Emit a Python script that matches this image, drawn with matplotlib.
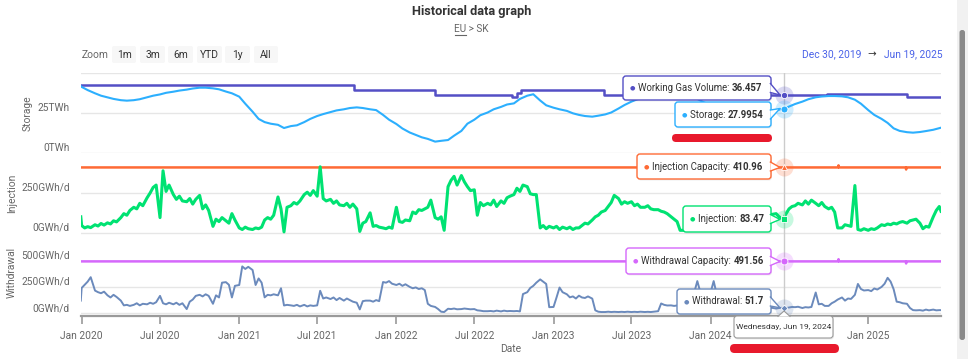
import numpy as np
import pandas as pd
import matplotlib
matplotlib.use("Agg")
import matplotlib.pyplot as plt
import matplotlib.transforms as mtransforms
from matplotlib.patches import FancyBboxPatch, Rectangle, Polygon
from matplotlib.lines import Line2D

plt.rcParams['font.family'] = ['Roboto', 'DejaVu Sans']

# ---------------- data ----------------
start_date = "2019-12-30"
end_date = "2025-06-19"
hover_date = "2024-06-19"

# storage: values on the 1st and 15th of each month (plus start, hover day, end)
storage = [42.0,
    41.5, 39.5, 37.5, 36.0, 35.0, 34.0, 33.2, 32.9, 33.2, 33.8, 35.0, 36.0,
    36.8, 37.8, 38.5, 39.2, 39.8, 40.5, 41.0, 41.0, 40.6, 40.0, 38.6, 37.5,
    35.4, 31.0, 26.0, 21.5, 19.5, 18.5, 17.8, 15.8, 17.0, 17.5, 19.5, 21.5,
    23.3, 24.5, 25.8, 26.8, 27.5, 28.3, 28.7, 28.3, 27.5, 27.0, 24.0, 21.0,
    18.3, 15.5, 13.0, 11.5, 10.0, 9.0, 7.3, 7.8, 8.3, 11.0, 14.0, 18.5,
    21.0, 23.8, 25.5, 27.5, 29.0, 30.5, 31.2, 34.0, 36.0, 36.9, 33.0, 30.0,
    28.5, 27.5, 26.5, 25.0, 24.0, 23.3, 22.9, 23.5, 24.3, 25.5, 28.0, 30.2,
    32.3, 33.8, 35.0, 35.8, 36.2, 36.4, 36.5, 36.5, 36.3, 35.5, 34.0, 32.0,
    30.0, 28.0, 26.0, 24.5, 23.5, 23.0, 23.0, 23.5, 24.5, 25.5, 26.8, 27.8, 27.9954,
    29.2, 30.8, 32.3, 33.8, 35.0, 35.5, 35.8, 35.8, 35.6, 35.0, 33.5, 31.0,
    27.0, 24.0, 21.5, 19.0, 15.6, 14.0, 13.2, 12.9, 13.3, 13.9, 14.7, 15.7,
    16.0]

# injection / withdrawal: values on days 1, 8, 15, 22 of each month (plus start, hover day, end)
injection = [100,
    45, 30, 38, 32,  50, 42, 58, 48,  62, 55, 75, 68,  95, 120, 110, 140,
    160, 150, 185, 170,  220, 250, 285, 300,  95, 390, 260, 300,  240, 210, 230, 200,
    195, 215, 180, 210,  235, 150, 175, 140,  40, 85, 70, 95,  75, 60, 120, 80,
    30, 20, 35, 25,  20, 30, 25, 35,  80, 95, 85, 110,  225, 150, 5, 160,
    170, 190, 180, 200,  240, 255, 235, 265,  230, 415, 215, 200,  210, 185, 200, 175,
    170, 185, 160, 180,  150, 8, 60, 70,  125, 40, 45, 35,  30, 25, 35, 28,
    160, 70, 65, 80,  75, 130, 120, 145,  140, 150, 160, 205,  95, 85, 100, 15,
    290, 330, 355, 300,  360, 320, 290, 265,  270, 110, 190, 170,  185, 175, 205, 165,
    200, 185, 220, 230,  240, 280, 260, 300,  290, 245, 240, 240,  30, 45, 25, 40,
    30, 40, 20, 35,  25, 35, 20, 30,  30, 45, 60, 55,  80, 100, 110, 130,
    140, 165, 190, 235,  215, 180, 195, 185,  195, 170, 180, 160,  160, 170, 150, 145,
    145, 135, 130, 120,  100, 85, 70, 15,  15, 25, 20, 30,  20, 15, 25, 18,
    20, 15, 25, 18,  25, 20, 30, 22,  30, 40, 45, 55,  60, 75, 80, 90,
    95, 105, 110, 115,  120, 100, 90, 83.47, 110,  150, 165, 170, 185,  175, 200, 180, 205,
    185, 170, 190, 165,  150, 160, 130, 30,  30, 50, 45, 40,  297, 20, 15, 25,
    15, 25, 20, 30,  50, 45, 55, 50,  60, 55, 65, 70,  60, 75, 80, 85,
    60, 25, 40, 35,  100, 140, 165,
    135]

withdrawal = [120,
    240, 270, 300, 342,  215, 200, 190, 205,  170, 150, 175, 155,  120, 75, 80, 70,
    80, 95, 75, 90,  85, 100, 90, 105,  165, 95, 85, 100,  85, 100, 80, 95,
    40, 110, 130, 165,  175, 160, 180, 165,  90, 170, 150, 290,  295, 270, 150, 260,
    268, 444, 420, 440,  410, 268, 330, 290,  151, 175, 170, 180,  170, 237, 74, 80,
    75, 70, 80, 65,  80, 65, 75, 70,  75, 213, 140, 150,  135, 150, 125, 145,
    120, 140, 125, 110,  100, 37, 115, 120,  120, 110, 125, 115,  296, 290, 305, 280,
    268, 280, 260, 275,  250, 237, 245, 230,  237, 220, 90, 70,  60, 40, 15, 12,
    43, 40, 45, 38,  40, 45, 42, 38,  40, 28, 25, 20,  20, 22, 18, 25,
    18, 25, 20, 22,  20, 22, 18, 182,  200, 240, 260, 290,  321, 300, 278, 58,
    60, 150, 244, 200,  180, 151, 160, 140,  167, 150, 145, 160,  139, 28, 15, 12,
    12, 15, 12, 14,  12, 14, 12, 15,  12, 14, 12, 15,  12, 14, 12, 15,
    20, 93, 80, 74,  75, 70, 74, 80,  85, 120, 150, 170,  305, 200, 180, 190,
    200, 305, 180, 170,  160, 150, 140, 135,  130, 110, 100, 90,  80, 70, 60, 55,
    55, 50, 48, 52,  45, 50, 52, 51.7, 48,  55, 60, 58, 62,  50, 58, 55, 60,
    197, 85, 90, 70,  70, 95, 110, 130,  150, 120, 140, 136,  175, 278, 230, 216,
    220, 210, 235, 225,  250, 280, 336, 300,  228, 110, 105, 95,  90, 50, 30, 28,
    30, 25, 35, 28,  35, 28, 30,
    30]

wgv_dates = ["2019-12-30", "2021-09-25", "2022-04-01", "2022-09-26", "2022-10-08",
             "2022-10-18", "2023-04-29", "2024-09-28", "2025-04-01", "2025-06-19"]
wgv_vals = [42.9, 39.6, 36.4, 35.4, 37.6, 39.6, 36.457, 37.0, 35.4, 35.4]

inj_cap_dates = ["2019-12-30", "2024-10-23", "2024-10-24", "2024-10-25",
                 "2025-03-29", "2025-03-30", "2025-03-31", "2025-06-19"]
inj_cap_vals = [410.96, 410.96, 424.0, 410.96, 410.96, 398.0, 410.96, 410.96]
wd_cap_dates = ["2019-12-30", "2024-10-23", "2024-10-24", "2024-10-25",
                "2025-03-29", "2025-03-30", "2025-03-31", "2025-06-19"]
wd_cap_vals = [491.56, 491.56, 512.0, 491.56, 491.56, 472.0, 491.56, 491.56]

hover_vals = {"wgv": 36.457, "storage": 27.9954, "inj_cap": 410.96,
              "injection": 83.47, "wd_cap": 491.56, "withdrawal": 51.7}

xtick_dates = ["2020-01-01", "2020-07-01", "2021-01-01", "2021-07-01", "2022-01-01",
               "2022-07-01", "2023-01-01", "2023-07-01", "2024-01-01", "2024-07-01",
               "2025-01-01"]
xtick_labels = ["Jan 2020", "Jul 2020", "Jan 2021", "Jul 2021", "Jan 2022", "Jul 2022",
                "Jan 2023", "Jul 2023", "Jan 2024", "", "Jan 2025"]

zoom_buttons = ["1m", "3m", "6m", "YTD", "1y", "All"]

# ---------------- dates ----------------
t_start, t_end, hv = pd.Timestamp(start_date), pd.Timestamp(end_date), pd.Timestamp(hover_date)


def with_ends(core):
    core = [d for d in core if d <= t_end]
    pos = sum(1 for d in core if d < hv)
    return pd.to_datetime([t_start] + core[:pos] + [hv] + core[pos:] + [t_end])


semi = list(pd.date_range("2020-01-01", "2025-06-15", freq="SMS"))
dates_s = with_ends(semi)
months = pd.date_range("2020-01-01", "2025-06-01", freq="MS")
weekly = [m + pd.Timedelta(days=d) for m in months for d in (0, 7, 14, 21)]
dates_w = with_ends(weekly)

# ---------------- colors ----------------
C_WGV = "#544fc5"
C_STO = "#2caffe"
C_INJ = "#00e272"
C_INJCAP = "#fe6a35"
C_WD = "#6b8abc"
C_WDCAP = "#d568fb"
C_GRID = "#e6e6e6"
C_LBL = "#666666"

W, H, DPI = 968, 359, 100
fig = plt.figure(figsize=(W / DPI, H / DPI), dpi=DPI)
fig.patch.set_facecolor("white")
ID = mtransforms.IdentityTransform()

X0, X1 = 80.8, 941.0
xl = (t_start, t_end)


def axes_px(y0, y1):
    ax = fig.add_axes([X0 / W, 1 - y1 / H, (X1 - X0) / W, (y1 - y0) / H])
    ax.patch.set_alpha(0)
    for s in ax.spines.values():
        s.set_visible(False)
    ax.set_xlim(xl)
    ax.tick_params(left=False, labelleft=False, bottom=False, labelbottom=False)
    return ax


def ylabels(ax, vals, labels):
    tr = mtransforms.offset_copy(ax.get_yaxis_transform(), fig=fig, x=-11, y=5, units='dots')
    for v, l in zip(vals, labels):
        ax.text(0, v, l, transform=tr, ha='right', va='center', fontsize=7.3,
                color=C_LBL, clip_on=False)


def gridlines(ax, vals):
    for v in vals:
        ax.axhline(v, color=C_GRID, lw=1, zorder=0)


# storage panel
ax_s = axes_px(73.3, 153.3)
ax_s.set_ylim(0, 50)
gridlines(ax_s, [0, 25, 50])
ylabels(ax_s, [0, 25], ["0TWh", "25TWh"])
ax_s.plot(pd.to_datetime(wgv_dates), wgv_vals, drawstyle="steps-post", color=C_WGV, lw=1.8, zorder=3)
ax_s.plot(dates_s, storage, color=C_STO, lw=1.5, zorder=3)

# injection panel
ax_i = axes_px(153.3, 250.0)
ax_i.set_ylim(-109, 500)
gridlines(ax_i, [0, 250])
ylabels(ax_i, [0, 250], ["0GWh/d", "250GWh/d"])
ax_i.plot(pd.to_datetime(inj_cap_dates), inj_cap_vals, color=C_INJCAP, lw=1.8, zorder=3)
ax_i.plot(dates_w, injection, color=C_INJ, lw=2.2, zorder=3)

# withdrawal panel
ax_w = axes_px(250.0, 316.0)
ax_w.set_ylim(-25.6, 599.4)
gridlines(ax_w, [0, 250])
ylabels(ax_w, [0, 250, 500], ["0GWh/d", "250GWh/d", "500GWh/d"])
ax_w.plot(pd.to_datetime(wd_cap_dates), wd_cap_vals, color=C_WDCAP, lw=1.8, zorder=3)
ax_w.plot(dates_w, withdrawal, color=C_WD, lw=1.4, zorder=3)

ax_w.spines["bottom"].set_visible(True)
ax_w.spines["bottom"].set_color("#9a9a9a")
ax_w.spines["bottom"].set_linewidth(1.6)
ax_w.set_xticks(pd.to_datetime(xtick_dates))
ax_w.set_xticklabels(xtick_labels)
ax_w.tick_params(axis="x", bottom=True, labelbottom=True, direction="out", length=6,
                 width=1.2, color="#9a9a9a", labelsize=7.4, labelcolor=C_LBL, pad=5)

# crosshair
for ax in (ax_s, ax_i, ax_w):
    ax.axvline(hv, color="#cccccc", lw=1, zorder=4)


def hover_mark(ax, val, color, marker, ms):
    ax.plot([hv], [val], marker="o", ms=13, color=color, alpha=0.22, mec="none", zorder=5, clip_on=False)
    ax.plot([hv], [val], marker=marker, ms=ms, color=color, mec="white", mew=0.6, zorder=6, clip_on=False)


hover_mark(ax_s, hover_vals["wgv"], C_WGV, "o", 4.5)
hover_mark(ax_s, hover_vals["storage"], C_STO, "o", 5)
hover_mark(ax_i, hover_vals["inj_cap"], C_INJCAP, "^", 5)
hover_mark(ax_i, hover_vals["injection"], C_INJ, "s", 4.5)
hover_mark(ax_w, hover_vals["wd_cap"], C_WDCAP, "o", 5)
hover_mark(ax_w, hover_vals["withdrawal"], C_WD, "D", 3.5)


# ---------------- header texts ----------------
def T(x, y, s, **kw):
    return fig.text(x, H - y, s, transform=ID, **kw)


T(472, 11, "Historical data graph", ha="center", va="center", fontsize=9.2,
  fontweight="bold", color="#333333")
T(471, 29, "EU > SK", ha="center", va="center", fontsize=7.2, color=C_LBL)
fig.add_artist(Line2D([454.5, 466], [H - 34.5, H - 34.5], transform=ID, color=C_LBL, lw=0.8))

T(82, 55, "Zoom", ha="left", va="center", fontsize=7.4, color=C_LBL)
btn_x = [112, 140, 168, 197, 225, 254]
btn_w = [24, 25, 25, 25, 25, 24]
for bx, bw, lab in zip(btn_x, btn_w, zoom_buttons):
    fig.add_artist(FancyBboxPatch((bx, H - 63), bw, 17, boxstyle="round,pad=0,rounding_size=2",
                                  transform=ID, fc="#f7f7f7", ec="none"))
    T(bx + bw / 2, 55, lab, ha="center", va="center", fontsize=7.4, color="#333333")

T(861, 54, "Dec 30, 2019", ha="right", va="center", fontsize=7.4, color="#4a62e8")
T(872, 54, "\u2192", ha="center", va="center", fontsize=7.4, color="#333333")
T(884, 54, "Jun 19, 2025", ha="left", va="center", fontsize=7.4, color="#4a62e8")

T(28, 113, "Storage", ha="center", va="center", rotation=90, fontsize=7.4, color=C_LBL)
T(12, 193, "Injection", ha="center", va="center", rotation=90, fontsize=7.4, color=C_LBL)
T(12, 272, "Withdrawal", ha="center", va="center", rotation=90, fontsize=7.4, color=C_LBL)
T(511, 349, "Date", ha="center", va="center", fontsize=7.4, color=C_LBL)

# ---------------- tooltips ----------------
renderer = fig.canvas.get_renderer()
PX = 784.0


def tooltip(x0, y0, x1, y1, color, label, value, py):
    fig.add_artist(FancyBboxPatch((x0 + 1, H - y1 - 1.5), x1 - x0, y1 - y0,
                                  boxstyle="round,pad=0,rounding_size=3", transform=ID,
                                  fc="#000000", ec="none", alpha=0.07, zorder=9))
    fig.add_artist(FancyBboxPatch((x0, H - y1), x1 - x0, y1 - y0,
                                  boxstyle="round,pad=0,rounding_size=3", transform=ID,
                                  fc="white", ec=color, lw=1.0, zorder=10))
    yc = (y0 + y1) / 2
    pts = [(x1 - 0.6, H - (yc - 4.5)), (PX - 4, H - py), (x1 - 0.6, H - (yc + 4.5))]
    fig.add_artist(Polygon(pts, closed=True, transform=ID, fc="white", ec="none", zorder=10.5))
    fig.add_artist(Line2D([p[0] for p in pts], [p[1] for p in pts], transform=ID,
                          color=color, lw=1.0, zorder=10.6))
    T(x0 + 9, yc, "\u25cf", ha="center", va="center", fontsize=4.5, color=color, zorder=11,
      family=["DejaVu Sans"])
    t = T(x0 + 15, yc, label, ha="left", va="center", fontsize=6.9, color="#333333", zorder=11)
    w = t.get_window_extent(renderer).width
    T(x0 + 15 + w, yc, value, ha="left", va="center", fontsize=6.9, color="#333333",
      fontweight="bold", zorder=11)


def ypx(ax, val):
    return H - ax.transData.transform((0, val))[1]


tooltip(623, 76, 771, 100, C_WGV, "Working Gas Volume: ", "36.457", ypx(ax_s, hover_vals["wgv"]))
tooltip(675, 102, 771, 127, C_STO, "Storage: ", "27.9954", ypx(ax_s, hover_vals["storage"]))
tooltip(637, 154, 771, 179, C_INJCAP, "Injection Capacity: ", "410.96", ypx(ax_i, hover_vals["inj_cap"]))
tooltip(683, 206, 771, 232, C_INJ, "Injection: ", "83.47", ypx(ax_i, hover_vals["injection"]))
tooltip(626, 248, 771, 274, C_WDCAP, "Withdrawal Capacity: ", "491.56", ypx(ax_w, hover_vals["wd_cap"]))
tooltip(677, 289, 771, 314, C_WD, "Withdrawal: ", "51.7", ypx(ax_w, hover_vals["withdrawal"]))

# date tooltip
fig.add_artist(FancyBboxPatch((735, H - 339.5), 99, 22, boxstyle="round,pad=0,rounding_size=3",
                              transform=ID, fc="#000000", ec="none", alpha=0.07, zorder=9))
fig.add_artist(FancyBboxPatch((734, H - 338), 99, 22, boxstyle="round,pad=0,rounding_size=3",
                              transform=ID, fc="white", ec="#999999", lw=0.8, zorder=10))
dp = [(778, H - 316.4), (784, H - 311), (790, H - 316.4)]
fig.add_artist(Polygon(dp, closed=True, transform=ID, fc="white", ec="none", zorder=10.5))
fig.add_artist(Line2D([p[0] for p in dp], [p[1] for p in dp], transform=ID,
                      color="#999999", lw=0.8, zorder=10.6))
T(783.5, 327, "Wednesday, Jun 19, 2024", ha="center", va="center", fontsize=6.0,
  color="#333333", zorder=11)

# red highlight bars
fig.add_artist(FancyBboxPatch((672, H - 142), 100, 8, boxstyle="round,pad=0,rounding_size=4",
                              transform=ID, fc="#e8192c", ec="none", zorder=12))
fig.add_artist(FancyBboxPatch((730, H - 353), 109, 9, boxstyle="round,pad=0,rounding_size=4.5",
                              transform=ID, fc="#e8192c", ec="none", zorder=12))

# scrollbar
fig.add_artist(Rectangle((957, 0), 11, H, transform=ID, fc="#f1f1f1", ec="none", zorder=1))
fig.add_artist(FancyBboxPatch((959.5, H - 340), 5.5, 310, boxstyle="round,pad=0,rounding_size=2.5",
                              transform=ID, fc="#8a8a8a", ec="none", zorder=2))

fig.savefig("out.png", dpi=DPI, facecolor="white")
